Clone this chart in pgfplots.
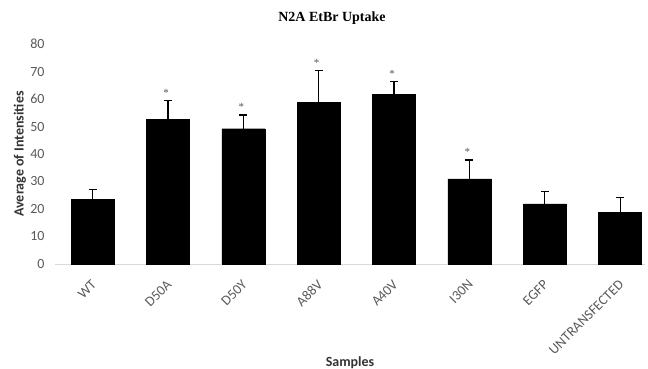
\documentclass[border=0pt]{standalone}
\usepackage{pgfplots}
\pgfplotsset{compat=1.18}
\usepackage{fontspec}
\setmainfont{Carlito}
\newfontfamily\titlefont{Liberation Serif}
\definecolor{tickgray}{HTML}{595959}
\definecolor{axgray}{HTML}{D9D9D9}
\newcommand\tfont{\fontsize{14bp}{16bp}\selectfont}
\begin{document}
\begin{tikzpicture}
\useasboundingbox (-55bp,-105bp) rectangle (593bp,264bp);
\begin{axis}[
  at={(0,0)}, anchor=south west,
  scale only axis, width=590bp, height=220bp,
  xmin=-0.5, xmax=7.33, ymin=0, ymax=80,
  ytick={0,10,...,80},
  xtick={0,...,7},
  xticklabels={WT,D50A,D50Y,A88V,A40V,I30N,EGFP,UNTRANSFECTED},
  /pgf/number format/assume math mode=true,
  axis lines*=left,
  y axis line style={draw=none},
  x axis line style={draw=axgray, line width=1pt},
  major tick length=0pt,
  tick style={draw=none},
  tick label style={font=\tfont, text=tickgray},
  yticklabel style={anchor=east, xshift=-7bp},
  xticklabel style={rotate=45, anchor=north east, inner sep=1bp, xshift=-11bp, yshift=-8bp},
  title={\titlefont\bfseries N2A EtBr Uptake},
  title style={font=\fontsize{14bp}{16bp}\selectfont, at={(axis description cs:0.5,1)}, anchor=center, yshift=20bp, xshift=-18bp},
  xlabel={Samples},
  xlabel style={font=\tfont\bfseries, text=black!80, at={(axis description cs:0.5,0)}, anchor=center, yshift=-99bp},
  ylabel={Average of Intensities},
  ylabel style={font=\tfont\bfseries, text=black!80, at={(axis description cs:0,0.5)}, anchor=center, yshift=35bp},
  clip=false,
]
\addplot[ybar, bar width=43bp, fill=black, draw=black,
  error bars/.cd, y dir=plus, y explicit,
  error bar style={line width=1.2pt, black},
  error mark options={rotate=90, mark size=4bp, line width=1.2pt, black}]
  table[x=x, y=y, y error=e] {
x y e
0 23.5 3.7
1 52.5 7.1
2 49.2 5.0
3 58.9 11.5
4 61.6 4.9
5 31.0 6.8
6 21.9 4.4
7 18.9 5.4
};
\addplot[draw=none, mark=none, nodes near coords={*},
  nodes near coords style={anchor=center, xshift=-2bp, font=\titlefont\fontsize{11bp}{12bp}\selectfont, text=tickgray}]
  table[x=x, y=y] {
x y
1 62.3
2 57.0
3 73.3
4 69.3
5 40.6
};
\end{axis}
\end{tikzpicture}
\end{document}
